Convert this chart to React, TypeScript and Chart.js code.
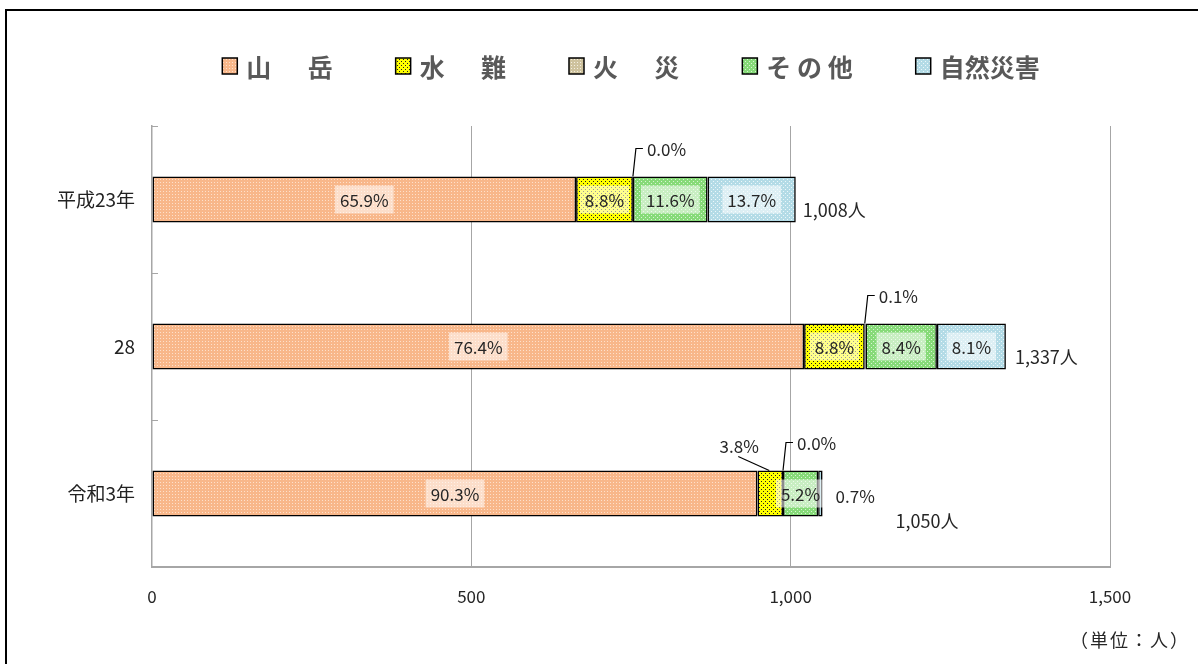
import { useEffect, useRef } from "react";
import { Chart, registerables } from "chart.js";

Chart.register(...registerables);

// ---- data ----
const categories = ["平成23年", "28", "令和3年"];
const seriesNames = ["山 　 岳", "水 　 難", "火 　 災", "そ の 他", "自然災害"];
const mountain = [664, 1021, 948];
const water = [89, 95, 40];
const fire = [0, 1, 0];
const other = [117, 112, 55];
const disaster = [138, 108, 7];
const mountainPct = ["65.9%", "76.4%", "90.3%"];
const waterPct = ["8.8%", "8.8%", "3.8%"];
const firePct = ["0.0%", "0.1%", "0.0%"];
const otherPct = ["11.6%", "8.4%", "5.2%"];
const disasterPct = ["13.7%", "8.1%", "0.7%"];
const totalLabels = ["1,008人", "1,337人", "1,050人"];
const xTicks = [0, 500, 1000, 1500];
const unitLabel = "（単位：人）";

const FONT = '"Noto Sans CJK JP", "Noto Sans", sans-serif';

// label placement styles (not data)
const calloutKinds: Record<string, string> = {
  "2-0": "elbow",
  "2-1": "elbow",
  "2-2": "elbow",
  "1-2": "diag",
  "4-2": "right",
};
const totalOffsets = [
  { dx: 7, dy: 11 },
  { dx: 9, dy: 11 },
  { dx: 73, dy: 28 },
];

function makePattern(base: string, dot: string, size: number, dots: number[][]) {
  const c = document.createElement("canvas");
  c.width = size;
  c.height = size;
  const g = c.getContext("2d")!;
  g.fillStyle = base;
  g.fillRect(0, 0, size, size);
  g.fillStyle = dot;
  dots.forEach(([x, y]) => g.fillRect(x, y, 1, 1));
  return g.createPattern(c, "repeat")!;
}

const labelPlugin = {
  id: "segLabels",
  afterDatasetsDraw(chart: any) {
    const ctx: CanvasRenderingContext2D = chart.ctx;
    const lists = [mountainPct, waterPct, firePct, otherPct, disasterPct];
    ctx.save();
    ctx.font = `17px ${FONT}`;
    ctx.textBaseline = "middle";
    lists.forEach((list, di) => {
      const meta = chart.getDatasetMeta(di);
      meta.data.forEach((bar: any, j: number) => {
        const p = bar.getProps(["x", "y", "base", "height"], true);
        const left = Math.min(p.x, p.base);
        const right = Math.max(p.x, p.base);
        const top = p.y - p.height / 2;
        const text = list[j];
        const kind = calloutKinds[`${di}-${j}`] || "inside";
        const w = ctx.measureText(text).width;
        ctx.fillStyle = "#262626";
        ctx.strokeStyle = "#000";
        ctx.lineWidth = 1.2;
        if (kind === "inside") {
          const cx = (left + right) / 2;
          ctx.fillStyle = "rgba(255,255,255,0.55)";
          ctx.fillRect(cx - w / 2 - 5, p.y - 14, w + 10, 28);
          ctx.fillStyle = "#262626";
          ctx.textAlign = "center";
          ctx.fillText(text, cx, p.y + 1);
        } else if (kind === "elbow") {
          const yy = top - 28;
          ctx.beginPath();
          ctx.moveTo(left, top);
          ctx.lineTo(left + 3, yy);
          ctx.lineTo(left + 10, yy);
          ctx.stroke();
          ctx.textAlign = "left";
          ctx.fillText(text, left + 14, yy + 1);
        } else if (kind === "diag") {
          const cx = (left + right) / 2;
          ctx.beginPath();
          ctx.moveTo(cx - 1, top);
          ctx.lineTo(cx - 32, top - 14);
          ctx.stroke();
          ctx.textAlign = "center";
          ctx.fillText(text, cx - 31, top - 24);
        } else if (kind === "right") {
          ctx.textAlign = "left";
          ctx.fillText(text, right + 13, p.y + 3);
        }
      });
    });
    // totals
    ctx.font = `18px ${FONT}`;
    const last = chart.getDatasetMeta(lists.length - 1);
    last.data.forEach((bar: any, j: number) => {
      const p = bar.getProps(["x", "y"], true);
      ctx.textAlign = "left";
      ctx.fillStyle = "#262626";
      ctx.fillText(totalLabels[j], p.x + totalOffsets[j].dx, p.y + totalOffsets[j].dy);
    });
    ctx.restore();
  },
  afterDraw(chart: any) {
    const ctx: CanvasRenderingContext2D = chart.ctx;
    const area = chart.chartArea;
    ctx.save();
    // inner ticks on category axis
    const n = categories.length;
    const step = (area.bottom - area.top) / n;
    ctx.strokeStyle = "#A6A6A6";
    ctx.lineWidth = 1;
    for (let i = 0; i < n; i++) {
      const yy = Math.round(area.top + i * step) + 0.5;
      ctx.beginPath();
      ctx.moveTo(area.left, yy);
      ctx.lineTo(area.left + 6, yy);
      ctx.stroke();
    }
    // legend
    ctx.font = `bold 25px ${FONT}`;
    ctx.textBaseline = "middle";
    ctx.textAlign = "left";
    const items = chart.data.datasets.map((ds: any) => ({
      text: ds.label,
      fill: ds.backgroundColor,
      w: ctx.measureText(ds.label).width,
    }));
    const bw = 15, bh = 16, gt = 9, gi = 63;
    const total =
      items.reduce((s: number, it: any) => s + bw + gt + it.w, 0) + gi * (items.length - 1);
    let x = (area.left + area.right) / 2 - total / 2;
    const yc = 55;
    items.forEach((it: any) => {
      ctx.fillStyle = it.fill;
      ctx.fillRect(x, yc - bh / 2, bw, bh);
      ctx.strokeStyle = "#000";
      ctx.lineWidth = 1.5;
      ctx.strokeRect(x, yc - bh / 2, bw, bh);
      ctx.fillStyle = "#595959";
      ctx.fillText(it.text, x + bw + gt, yc + 1);
      x += bw + gt + it.w + gi;
    });
    // unit label
    ctx.font = `18px ${FONT}`;
    (ctx as any).letterSpacing = "2px";
    ctx.fillStyle = "#262626";
    ctx.textAlign = "right";
    ctx.fillText(unitLabel, chart.width - 8, 629);
    ctx.restore();
  },
};

export default function App() {
  const ref = useRef<HTMLCanvasElement>(null);
  useEffect(() => {
    if (!ref.current) return;
    Chart.defaults.font.family = FONT;
    const patterns = [
      makePattern("#F8B78A", "#FDE0CB", 3, [[0, 0]]),
      makePattern("#FFFF00", "#222222", 4, [[0, 0], [2, 2]]),
      makePattern("#CEC29E", "#F3EFE2", 3, [[0, 0]]),
      makePattern("#86DA78", "#D9F4D3", 4, [[0, 0], [2, 2]]),
      makePattern("#B3DBE6", "#EDF7FA", 4, [[0, 0], [2, 2]]),
    ];
    const values = [mountain, water, fire, other, disaster];
    const chart = new Chart(ref.current, {
      type: "bar",
      data: {
        labels: categories,
        datasets: values.map((d, i) => ({
          label: seriesNames[i],
          data: d,
          backgroundColor: patterns[i] as any,
          borderColor: "#000",
          borderWidth: 1.6,
          borderSkipped: false,
          barPercentage: 1,
          categoryPercentage: 0.313,
          stack: "s",
        })),
      },
      options: {
        indexAxis: "y",
        animation: false,
        responsive: false,
        devicePixelRatio: 1,
        layout: { padding: { top: 115, left: 0, right: 88, bottom: 0 } },
        plugins: {
          legend: { display: false },
          tooltip: { enabled: false },
        },
        scales: {
          x: {
            stacked: true,
            min: 0,
            max: 1500,
            afterBuildTicks: (s: any) => {
              s.ticks = xTicks.map((v) => ({ value: v }));
            },
            ticks: {
              padding: 19,
              color: "#262626",
              font: { size: 17, family: `"Liberation Sans Narrow", ${FONT}` },
            },
            grid: {
              drawTicks: false,
              color: (c: any) => (c.tick && c.tick.value === 0 ? "rgba(0,0,0,0)" : "#A6A6A6"),
              lineWidth: 1,
            },
            border: { color: "#A6A6A6", width: 2 },
            afterFit: (s: any) => {
              s.height = 97;
            },
          },
          y: {
            stacked: true,
            grid: { display: false, drawTicks: false },
            border: { color: "#A6A6A6", width: 1.5 },
            ticks: { padding: 17, color: "#222", font: { size: 19 } },
            afterFit: (s: any) => {
              s.width = 145;
            },
          },
        },
      },
      plugins: [labelPlugin],
    });
    return () => chart.destroy();
  }, []);
  return (
    <div
      style={{
        position: "absolute",
        left: 5,
        top: 9,
        width: 1193,
        height: 655,
        borderLeft: "2px solid #000",
        borderTop: "2px solid #000",
        boxSizing: "border-box",
        background: "#fff",
        overflow: "hidden",
      }}
    >
      <canvas ref={ref} width={1191} height={653} style={{ display: "block" }} />
    </div>
  );
}
